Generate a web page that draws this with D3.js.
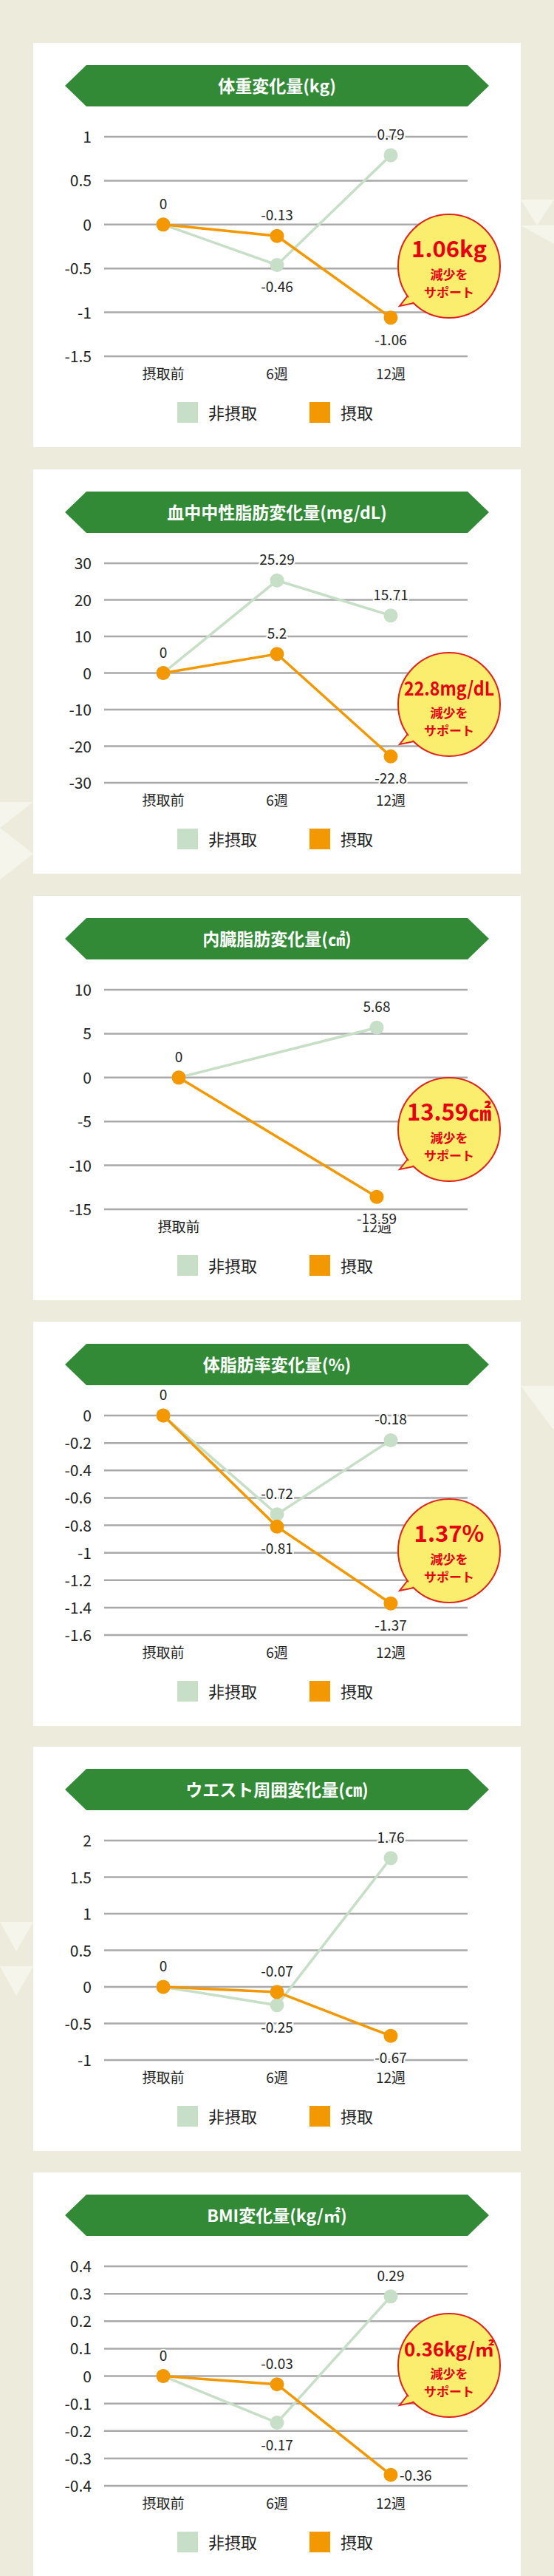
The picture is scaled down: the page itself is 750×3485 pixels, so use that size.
<!DOCTYPE html>
<html>
<head>
<meta charset="utf-8">
<script src="https://cdn.jsdelivr.net/npm/d3@7"></script>
<style>
  body { margin: 0; background: #ecebdc; }
  svg { display: block; }
  text { font-family: "Noto Sans CJK JP", "Noto Sans", sans-serif; }
</style>
</head>
<body>
<svg id="chart" width="750" height="3485"></svg>
<script>
// chart data
const titles = ["体重変化量(kg)", "血中中性脂肪変化量(mg/dL)", "内臓脂肪変化量(㎠)", "体脂肪率変化量(%)", "ウエスト周囲変化量(㎝)", "BMI変化量(kg/㎡)"];
const cats3 = ["摂取前", "6週", "12週"];
const cats2 = ["摂取前", "12週"];
const categories = [cats3, cats3, cats2, cats3, cats3, cats3];
const nonIntake = [[0, -0.46, 0.79], [0, 25.29, 15.71], [0, 5.68], [0, -0.72, -0.18], [0, -0.25, 1.76], [0, -0.17, 0.29]];
const intake = [[0, -0.13, -1.06], [0, 5.2, -22.8], [0, -13.59], [0, -0.81, -1.37], [0, -0.07, -0.67], [0, -0.03, -0.36]];
// label placement: a = above, b = below, r = right, "" = none
const nonPos = [["a", "b", "a"], ["a", "a", "a"], ["a", "a"], ["a", "a", "a"], ["a", "b", "a"], ["a", "b", "a"]];
const intakePos = [["", "a", "b"], ["", "a", "b"], ["", "b"], ["", "b", "b"], ["", "a", "b"], ["", "a", "r"]];
const yTicks = [
  [1, 0.5, 0, -0.5, -1, -1.5],
  [30, 20, 10, 0, -10, -20, -30],
  [10, 5, 0, -5, -10, -15],
  [0, -0.2, -0.4, -0.6, -0.8, -1, -1.2, -1.4, -1.6],
  [2, 1.5, 1, 0.5, 0, -0.5, -1],
  [0.4, 0.3, 0.2, 0.1, 0, -0.1, -0.2, -0.3, -0.4]
];
const bubbleText = ["1.06kg", "22.8mg/dL", "13.59㎠", "1.37%", null, "0.36kg/㎡"];
const legendNames = ["非摂取", "摂取"];

const green = "#c6dfc6", orange = "#f39800";
const cardTops = [58, 635, 1212, 1788, 2363, 2939];
const bubbleY = [302, 318, 316, 310, 0, 261];

const svg = d3.select("#chart");

// background decoration
const deco = [[[705, 270], [750, 270], [727, 305]], [[705, 305], [750, 305], [750, 330]],
  [[0, 1085], [45, 1085], [0, 1120]], [[0, 1120], [45, 1155], [0, 1190]],
  [[705, 1875], [750, 1875], [750, 1935]], [[0, 2600], [45, 2600], [22, 2640]], [[0, 2660], [45, 2660], [22, 2700]]];
svg.selectAll(".deco").data(deco).enter().append("polygon")
  .attr("points", (d) => d.map((p) => p.join(",")).join(" "))
  .attr("fill", "#f6f5ec");

titles.forEach((title, i) => {
  const g = svg.append("g").attr("transform", `translate(0,${cardTops[i]})`);
  g.append("rect").attr("x", 45).attr("y", 0).attr("width", 660).attr("height", 547).attr("fill", "#fff");

  // title banner
  g.append("polygon")
    .attr("points", "88,58 117,30 633,30 662,58 633,86 117,86")
    .attr("fill", "#328a37");
  g.append("text").attr("x", 375).attr("y", 67).attr("text-anchor", "middle")
    .attr("fill", "#fff").attr("font-size", 23).attr("font-weight", "bold").text(title);

  const ticks = yTicks[i];
  const y = d3.scaleLinear().domain(d3.extent(ticks)).range([424, 127]);
  const cats = categories[i];
  const x = d3.scalePoint().domain(cats).range(cats.length === 2 ? [242, 510] : [221, 529]);

  // gridlines and y labels
  g.append("g").selectAll("line").data(ticks).enter().append("line")
    .attr("x1", 141).attr("x2", 633).attr("y1", (d) => y(d)).attr("y2", (d) => y(d))
    .attr("stroke", "#a9a9a9").attr("stroke-width", 2.5);
  g.append("g").selectAll("text").data(ticks).enter().append("text")
    .attr("x", 124).attr("y", (d) => y(d) + 8).attr("text-anchor", "end")
    .attr("font-size", 21).attr("fill", "#222").text((d) => d);

  // x labels
  g.append("g").selectAll("text").data(cats).enter().append("text")
    .attr("x", (d) => x(d)).attr("y", 455).attr("text-anchor", "middle")
    .attr("font-size", 19).attr("fill", "#222").text((d) => d);

  const line = d3.line().x((d, k) => x(cats[k])).y((d) => y(d));
  const series = [[nonIntake[i], green, nonPos[i]], [intake[i], orange, intakePos[i]]];
  series.forEach(([vals, col]) => {
    g.append("path").attr("d", line(vals)).attr("fill", "none").attr("stroke", col).attr("stroke-width", 3.5);
    g.append("g").selectAll("circle").data(vals).enter().append("circle")
      .attr("cx", (d, k) => x(cats[k])).attr("cy", (d) => y(d)).attr("r", 9.5).attr("fill", col);
  });
  series.forEach(([vals, col, pos]) => {
    const pts = vals.map((v, k) => ({ v, cat: cats[k], p: pos[k] })).filter((d) => d.p !== "");
    g.append("g").selectAll("text").data(pts).enter().append("text")
      .attr("x", (d) => d.p === "r" ? x(d.cat) + 12 : x(d.cat))
      .attr("y", (d) => d.p === "a" ? y(d.v) - 21 : d.p === "b" ? y(d.v) + 37 : y(d.v) + 8)
      .attr("text-anchor", (d) => d.p === "r" ? "start" : "middle")
      .attr("font-size", 19).attr("fill", "#222")
      .attr("stroke", "#fff").attr("stroke-width", 4).attr("paint-order", "stroke")
      .text((d) => d.v);
  });

  // bubble
  if (bubbleText[i]) {
    const by = bubbleY[i];
    const bub = g.append("g");
    bub.append("path")
      .attr("d", `M${560},${by + 30} L${541},${by + 54} L${585},${by + 45} Z`)
      .attr("fill", "#fbee6e").attr("stroke", "#e3221e").attr("stroke-width", 2);
    bub.append("ellipse").attr("cx", 608).attr("cy", by).attr("rx", 69).attr("ry", 70)
      .attr("fill", "#fbee6e").attr("stroke", "#e3221e").attr("stroke-width", 2);
    bub.append("path")
      .attr("d", `M${562},${by + 31} L${545},${by + 52} L${583},${by + 43}`)
      .attr("fill", "#fbee6e").attr("stroke", "none");
    const bt = bubbleText[i];
    const fs = bt.length > 7 ? 26 : 31;
    bub.append("text").attr("x", 608).attr("y", by - 12).attr("text-anchor", "middle")
      .attr("font-size", fs).attr("font-weight", "bold").attr("fill", "#e60012")
      .attr("textLength", bt.length > 6 ? 122 : null).attr("lengthAdjust", "spacingAndGlyphs")
      .text(bt);
    bub.append("text").attr("x", 608).attr("y", by + 18).attr("text-anchor", "middle")
      .attr("font-size", 17).attr("font-weight", "bold").attr("fill", "#e60012").text("減少を");
    bub.append("text").attr("x", 608).attr("y", by + 42).attr("text-anchor", "middle")
      .attr("font-size", 17).attr("font-weight", "bold").attr("fill", "#e60012").text("サポート");
  }

  // legend
  const leg = g.append("g").attr("transform", "translate(0,500)");
  [[240, green], [419, orange]].forEach(([lx, col], k) => {
    leg.append("rect").attr("x", lx).attr("y", -14).attr("width", 28).attr("height", 28).attr("fill", col);
    leg.append("text").attr("x", lx + 42).attr("y", 9).attr("font-size", 22).attr("fill", "#222").text(legendNames[k]);
  });
});
</script>
</body>
</html>
